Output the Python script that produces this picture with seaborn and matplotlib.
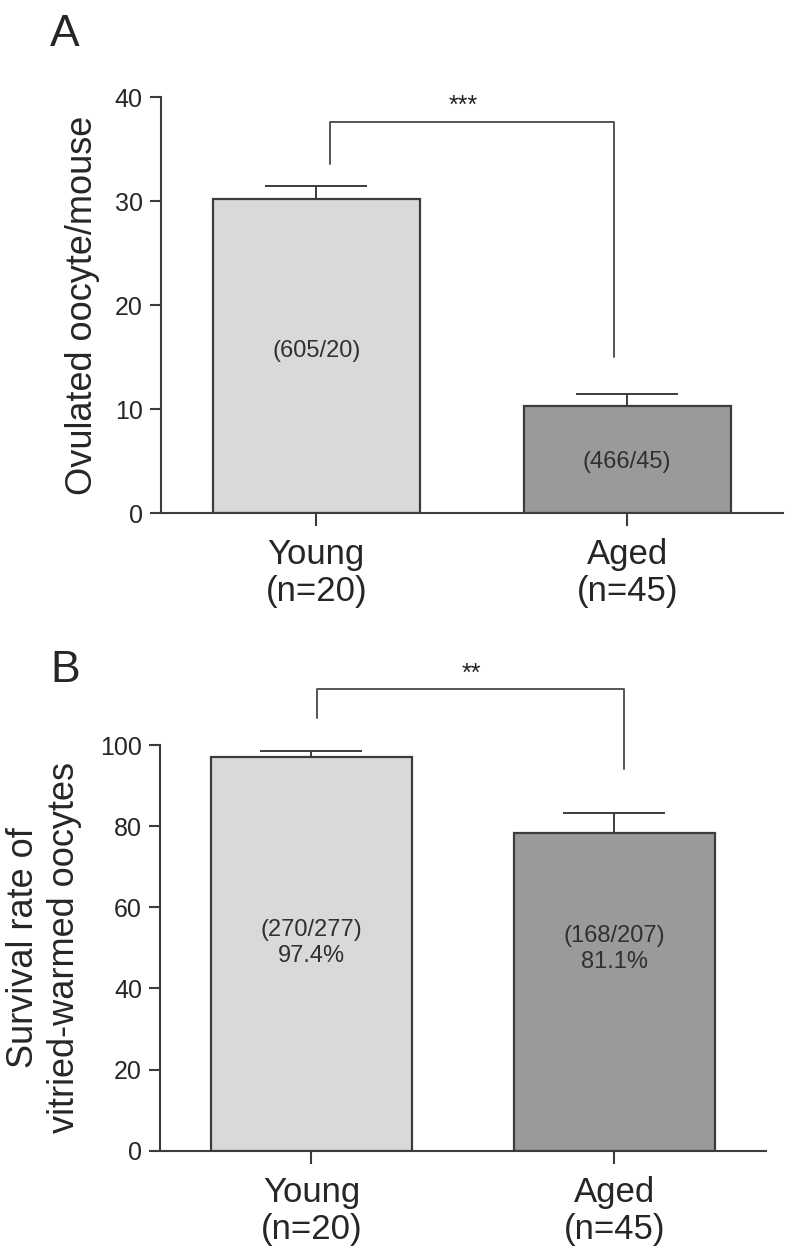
import matplotlib
matplotlib.use("Agg")
from matplotlib import pyplot as plt
import seaborn as sns

# values
groups = ["Young\n(n=20)", "Aged\n(n=45)"]
oocyte_mean = [30.2, 10.3]
oocyte_sem = [1.3, 1.2]
oocyte_counts = ["(605/20)", "(466/45)"]
oocyte_count_y = [15.6, 4.9]

survival_mean = [97.1, 78.4]
survival_sem = [1.4, 4.8]
survival_counts = ["(270/277)\n97.4%", "(168/207)\n81.1%"]
survival_count_y = [51.2, 49.7]

bar_colors = ["#d9d9d9", "#9a9a9a"]
line_col = "#3c3c3c"

sns.set_style("ticks")
plt.rcParams["font.family"] = ["Liberation Sans", "DejaVu Sans"]

fig = plt.figure(figsize=(7.87, 12.54), dpi=100)
axA = fig.add_axes([0.2042, 0.5907, 0.7903, 0.3317])
axB = fig.add_axes([0.2033, 0.0824, 0.7700, 0.3235])


def draw_panel(ax, means, sems, counts, count_y, ymax, step):
    sns.barplot(x=groups, y=means, hue=groups, palette=bar_colors,
                edgecolor=line_col, linewidth=1.6, width=0.665,
                errorbar=None, legend=False, ax=ax)
    ax.errorbar(range(len(groups)), means, yerr=[[0] * len(sems), sems],
                fmt="none", ecolor=line_col, elinewidth=1.4,
                capsize=37, capthick=1.4, zorder=3)
    for i, (t, y) in enumerate(zip(counts, count_y)):
        ax.text(i, y, t, ha="center", va="center", fontsize=17,
                color="#303030", linespacing=1.2)
    ax.set_xlim(-0.5, 1.5)
    ax.set_ylim(0, ymax)
    ax.set_yticks(range(0, ymax + 1, step))
    sns.despine(ax=ax)
    for s in ("left", "bottom"):
        ax.spines[s].set_color(line_col)
        ax.spines[s].set_linewidth(1.5)
    ax.tick_params(axis="y", length=8, width=1.5, color=line_col,
                   labelsize=18, pad=5)
    ax.tick_params(axis="x", length=9, width=1.5, color=line_col,
                   labelsize=25, pad=9)
    for lab in ax.get_xticklabels():
        lab.set_linespacing(1.15)


def bracket(ax, x0, x1, top, left_bottom, right_bottom, stars, sx, sy):
    ax.plot([x0, x0, x1, x1], [left_bottom, top, top, right_bottom],
            color="#555555", lw=1.4, clip_on=False)
    ax.text(sx, sy, stars, ha="center", va="center", fontsize=18,
            color="#222222", clip_on=False)


draw_panel(axA, oocyte_mean, oocyte_sem, oocyte_counts, oocyte_count_y, 40, 10)
axA.set_ylabel("Ovulated oocyte/mouse", fontsize=26)
axA.yaxis.set_label_coords(-0.097, 0.5)
bracket(axA, 0.044, 0.958, 37.6, 33.6, 15.0, "***", 0.473, 39.2)

draw_panel(axB, survival_mean, survival_sem, survival_counts,
           survival_count_y, 100, 20)
axB.set_ylabel("Survival rate of\nvitried-warmed oocytes", fontsize=26,
               linespacing=1.25)
axB.yaxis.set_label_coords(-0.128, 0.5)
bracket(axB, 0.017, 1.03, 113.8, 106.7, 94.0, "**", 0.528, 117.5)

fig.text(0.0635, 0.989, "A", fontsize=32, va="top", ha="left")
fig.text(0.0635, 0.482, "B", fontsize=32, va="top", ha="left")

fig.savefig("out.png", dpi=100)
